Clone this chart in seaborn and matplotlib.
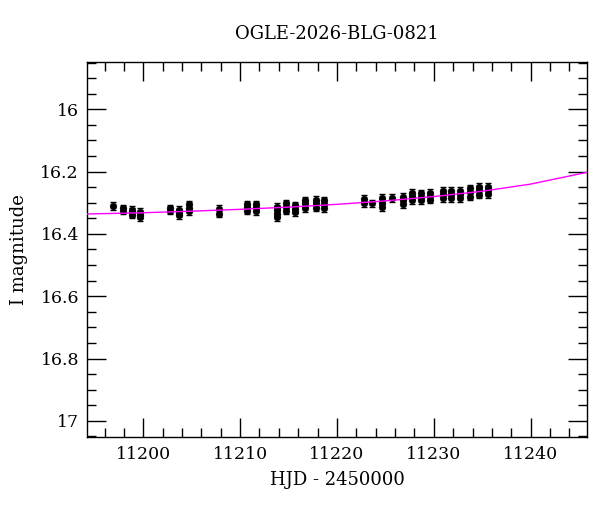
import numpy as np
import pandas as pd
import matplotlib
matplotlib.use("Agg")
import matplotlib.pyplot as plt
from matplotlib.ticker import MultipleLocator
import seaborn as sns

# ---- data ----
hjd = [11196.9,
       11197.9, 11197.9,
       11198.8, 11198.8, 11198.8,
       11199.7, 11199.7, 11199.7,
       11202.8, 11202.8,
       11203.7, 11203.7, 11203.7,
       11204.7, 11204.7, 11204.7,
       11207.8, 11207.8,
       11210.7, 11210.7, 11210.7,
       11211.6, 11211.6, 11211.6,
       11213.8, 11213.8, 11213.8, 11213.8,
       11214.7, 11214.7, 11214.7,
       11215.7, 11215.7, 11215.7,
       11216.7, 11216.7, 11216.7,
       11217.8, 11217.8, 11217.8,
       11218.7, 11218.7, 11218.7,
       11222.8, 11222.8,
       11223.6,
       11224.7, 11224.7, 11224.7,
       11225.7,
       11226.8, 11226.8, 11226.8,
       11227.7, 11227.7, 11227.7,
       11228.7, 11228.7, 11228.7,
       11229.6, 11229.6, 11229.6,
       11230.9, 11230.9, 11230.9,
       11231.8, 11231.8, 11231.8,
       11232.7, 11232.7, 11232.7,
       11233.7, 11233.7, 11233.7,
       11234.7, 11234.7, 11234.7,
       11235.6, 11235.6, 11235.6]
imag = [16.310,
        16.318, 16.325,
        16.322, 16.330, 16.338,
        16.330, 16.338, 16.347,
        16.318, 16.325,
        16.322, 16.332, 16.340,
        16.305, 16.318, 16.328,
        16.320, 16.335,
        16.305, 16.315, 16.325,
        16.305, 16.315, 16.328,
        16.312, 16.322, 16.335, 16.345,
        16.302, 16.315, 16.325,
        16.308, 16.320, 16.330,
        16.292, 16.302, 16.318,
        16.290, 16.302, 16.316,
        16.292, 16.305, 16.318,
        16.288, 16.300,
        16.302,
        16.285, 16.300, 16.315,
        16.285,
        16.280, 16.292, 16.305,
        16.268, 16.278, 16.292,
        16.270, 16.282, 16.292,
        16.268, 16.278, 16.290,
        16.262, 16.272, 16.286,
        16.262, 16.272, 16.286,
        16.262, 16.272, 16.285,
        16.254, 16.266, 16.280,
        16.248, 16.258, 16.274,
        16.248, 16.258, 16.272]
ierr = [0.012] * len(hjd)

model_hjd = [11194.2, 11200.0, 11205.0, 11210.0, 11215.0, 11220.0,
             11225.0, 11230.0, 11235.0, 11240.0, 11245.85]
model_mag = [16.336, 16.332, 16.327, 16.321, 16.314, 16.305,
             16.294, 16.280, 16.263, 16.240, 16.202]

title = "OGLE-2026-BLG-0821"
xlabel = "HJD - 2450000"
ylabel = "I magnitude"

# ---- plot ----
sns.set_style("ticks")
plt.rcParams['font.family'] = ['DejaVu Serif']
plt.rcParams['text.color'] = 'black'
plt.rcParams['axes.labelcolor'] = 'black'
plt.rcParams['xtick.color'] = 'black'
plt.rcParams['ytick.color'] = 'black'

fig = plt.figure(figsize=(6.0, 5.12), dpi=100)
ax = fig.add_axes([0.1455, 0.1459, 0.8333, 0.7324])

obs = pd.DataFrame({"hjd": hjd, "mag": imag, "err": ierr})
mod = pd.DataFrame({"hjd": model_hjd, "mag": model_mag})

ax.errorbar(obs["hjd"], obs["mag"], yerr=obs["err"], fmt="none",
            ecolor="black", elinewidth=1.0, capsize=2.5, capthick=1.0, zorder=2)
sns.scatterplot(data=obs, x="hjd", y="mag", ax=ax, color="black", s=24,
                edgecolor="black", linewidth=0.3, zorder=3, legend=False)
sns.lineplot(data=mod, x="hjd", y="mag", ax=ax, color="#ff00ff", lw=1.0,
             zorder=4, legend=False)

ax.set_xlim(11194.22, 11245.85)
ax.set_ylim(17.053, 15.849)

ax.xaxis.set_major_locator(MultipleLocator(10))
ax.xaxis.set_minor_locator(MultipleLocator(2))
ax.yaxis.set_major_locator(MultipleLocator(0.2))
ax.yaxis.set_minor_locator(MultipleLocator(0.05))
ax.yaxis.set_major_formatter(matplotlib.ticker.FuncFormatter(
    lambda v, p: ("%g" % round(v, 2))))

ax.tick_params(which="both", direction="in", top=True, right=True,
               colors="black", labelcolor="black", width=1.0)
ax.tick_params(which="major", length=13.5, labelsize=12.5, pad=6)
ax.tick_params(which="minor", length=6.8)
for s in ax.spines.values():
    s.set_linewidth(1.0)
    s.set_color("black")

ax.set_xlabel(xlabel, fontsize=13, labelpad=6, color="black")
ax.set_ylabel(ylabel, fontsize=13, labelpad=9, color="black")
ax.set_title(title, fontsize=13, pad=17, color="black")

fig.savefig("out.png", dpi=100)
